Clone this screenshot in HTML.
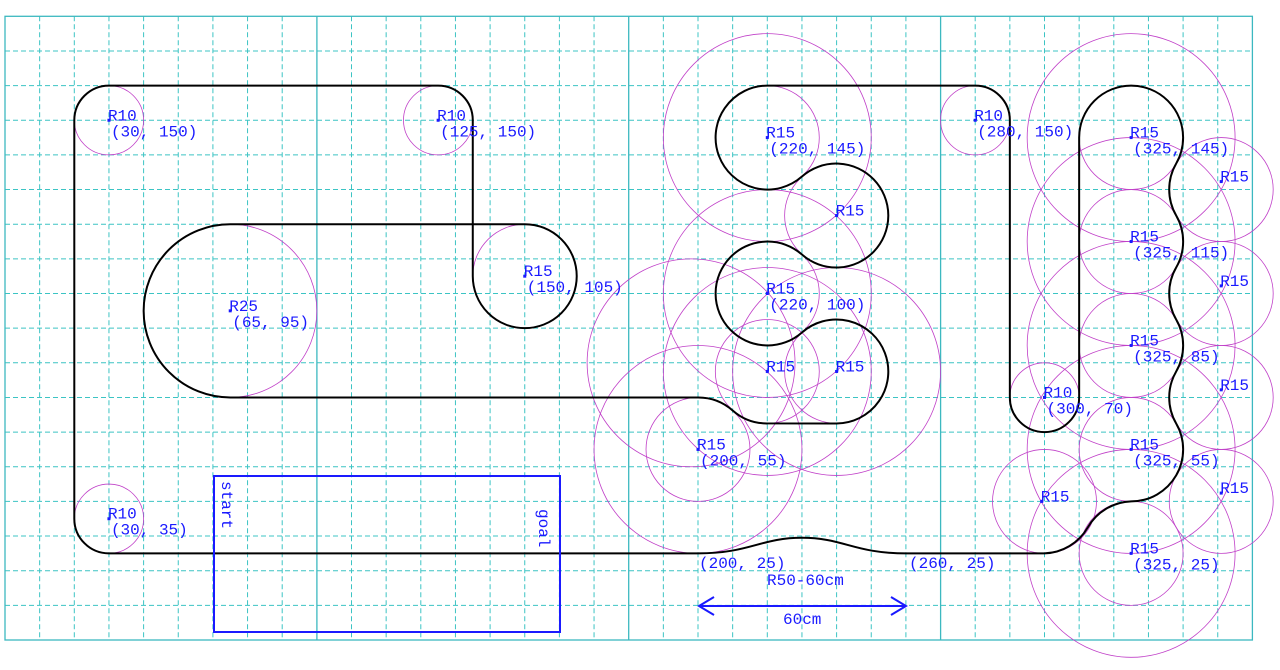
<!DOCTYPE html>
<html><head><meta charset="utf-8"><style>
html,body{margin:0;padding:0;background:#fff;}
svg{display:block}
text{font-family:"Liberation Mono","Noto Sans CJK JP",monospace;font-size:16px;fill:#1a1aff;}
</style></head><body>
<svg width="1280" height="670" viewBox="0 0 1280 670" xmlns="http://www.w3.org/2000/svg">
<rect width="1280" height="670" fill="#fff"/>
<g id="grid" stroke="#3cc4c4" stroke-width="1" stroke-dasharray="5,3"></g>
<g stroke="#3cb8c0" stroke-width="1.3" fill="none">
<rect x="5" y="16.3" width="1247.4" height="623.7"/>
<line x1="316.9" y1="16.3" x2="316.9" y2="640"/>
<line x1="628.7" y1="16.3" x2="628.7" y2="640"/>
<line x1="940.6" y1="16.3" x2="940.6" y2="640"/>
</g>
<g id="circ" fill="none" stroke="#c040c8"></g>
<g transform="matrix(3.465,0,0,3.465,5,640)">
<path fill="none" stroke="#000" stroke-width="2" vector-effect="non-scaling-stroke" d="
M20,-35 L20,-150 A10,10 0 0 1 30,-160 L125,-160 A10 10 0 0 1 135,-150 L135,-105
A15 15 0 1 0 150,-120 L65,-120 A25 25 0 0 0 65,-70 L200,-70
A15 15 0 0 1 210,-66.25 A15 15 0 0 0 220,-62.5 L240,-62.5
A15 15 0 1 0 230,-88.75 A15 15 0 1 1 230,-111.25 A15 15 0 1 0 230,-133.75 A15 15 0 1 1 220,-160
L280,-160 A10 10 0 0 1 290,-150 L290,-70 A10 10 0 0 0 310,-70 L310,-145
A15 15 0 0 1 340,-145 A15 15 0 0 1 338,-137.5
A15 15 0 0 0 338,-122.5 A15 15 0 0 1 338,-107.5 A15 15 0 0 0 338,-92.5 A15 15 0 0 1 338,-77.5 A15 15 0 0 0 338,-62.5
A15 15 0 0 1 325,-40 A15 15 0 0 0 312.5,-32.5 A15 15 0 0 1 300,-25 L260,-25
C245,-25 242,-29.5 230,-29.5 C218,-29.5 215,-25 200,-25 L30,-25 A10 10 0 0 1 20,-35 Z"/>
</g>
<g id="lbl"></g>
<rect x="214" y="476" width="346" height="156" fill="none" stroke="#1a1aff" stroke-width="2"/>
<text transform="translate(222,481) rotate(90)">start</text>
<text transform="translate(539,509) rotate(90)">goal</text>
<text x="699" y="568">(200, 25)</text>
<text x="909" y="568">(260, 25)</text>
<text x="767" y="585">R50-60cm</text>
<text x="783" y="624">60cm</text>
<g stroke="#1a1aff" stroke-width="2" fill="none">
<line x1="699" y1="606" x2="906" y2="606"/>
<polyline points="714,597 699,606 714,615"/>
<polyline points="891,597 906,606 891,615"/>
</g>
<script>
var NS="http://www.w3.org/2000/svg";
var g=document.getElementById('grid');
for(var k=1;k<36;k++){if(k%9==0)continue;var x=5+34.65*k;var l=document.createElementNS(NS,'line');l.setAttribute('x1',x);l.setAttribute('x2',x);l.setAttribute('y1',16.3);l.setAttribute('y2',640);g.appendChild(l);}
for(var k=1;k<18;k++){var y=640-34.65*k;var l=document.createElementNS(NS,'line');l.setAttribute('y1',y);l.setAttribute('y2',y);l.setAttribute('x1',5);l.setAttribute('x2',1252.4);g.appendChild(l);}
function P(X,Y){return [5+3.465*X,640-3.465*Y];}
var c=document.getElementById('circ');
var C=[[30,150,10],[125,150,10],[150,105,15],[65,95,25],[30,35,10],[280,150,10],[300,70,10],
[220,145,15],[220,145,30],[240,122.5,15],[220,100,15],[220,100,30],[240,77.5,15],[240,77.5,30],[220,77.5,15],[220,77.5,30],[200,55,15],[200,55,30],[198,80,30],
[325,145,15],[325,145,30],[325,115,15],[325,115,30],[325,85,15],[325,85,30],[325,55,15],[325,55,30],[325,25,15],[325,25,30],
[351,130,15],[351,100,15],[351,70,15],[351,40,15],[300,40,15]];
C.forEach(function(a){var p=P(a[0],a[1]);var e=document.createElementNS(NS,'circle');e.setAttribute('cx',p[0]);e.setAttribute('cy',p[1]);e.setAttribute('r',a[2]*3.465);e.setAttribute('stroke-width','0.8');c.appendChild(e);});
var L=document.getElementById('lbl');
var T=[[30,150,'R10','(30, 150)'],[125,150,'R10','(125, 150)'],[150,105,'R15','(150, 105)'],[65,95,'R25','(65, 95)'],[30,35,'R10','(30, 35)'],
[220,145,'R15','(220, 145)'],[220,100,'R15','(220, 100)'],[240,122.5,'R15',''],[220,77.5,'R15',''],[240,77.5,'R15',''],[200,55,'R15','(200, 55)'],
[280,150,'R10','(280, 150)'],[300,70,'R10','(300, 70)'],[325,145,'R15','(325, 145)'],[325,115,'R15','(325, 115)'],[325,85,'R15','(325, 85)'],[325,55,'R15','(325, 55)'],[325,25,'R15','(325, 25)'],
[351,132.3,'R15',''],[351,102.2,'R15',''],[351,72.2,'R15',''],[351,42.4,'R15',''],[299.2,40,'R15','']];
T.forEach(function(a){var p=P(a[0],a[1]);
var d=document.createElementNS(NS,'rect');d.setAttribute('x',p[0]-1.5);d.setAttribute('y',p[1]-1.5);d.setAttribute('width',3);d.setAttribute('height',3);d.setAttribute('fill','#1a1aff');L.appendChild(d);
var t=document.createElementNS(NS,'text');t.setAttribute('x',p[0]-1);t.setAttribute('y',p[1]);t.textContent=a[2];L.appendChild(t);
if(a[3]){var t2=document.createElementNS(NS,'text');t2.setAttribute('x',p[0]+2);t2.setAttribute('y',p[1]+16);t2.textContent=a[3];L.appendChild(t2);}
});
</script>
</svg>
</body></html>
